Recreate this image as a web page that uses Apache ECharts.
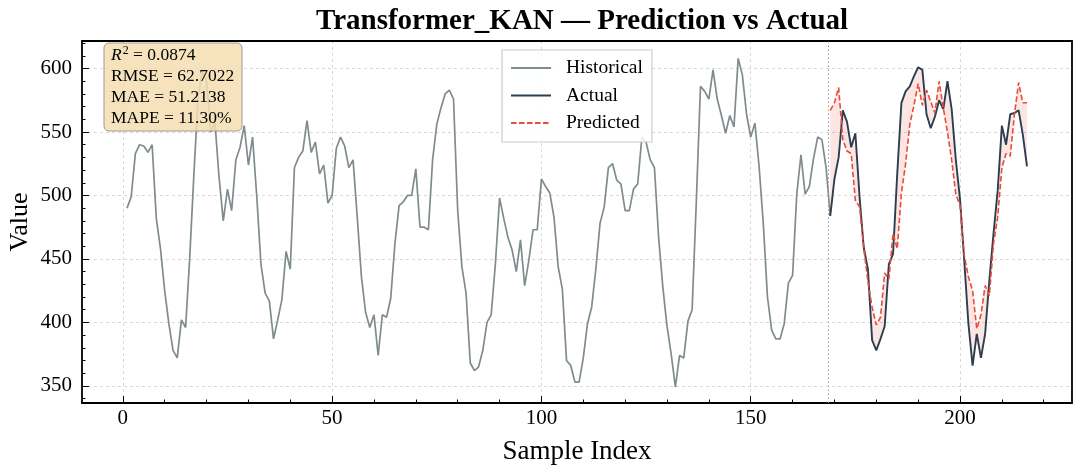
<!DOCTYPE html>
<html>
<head>
<meta charset="utf-8">
<script src="https://cdn.jsdelivr.net/npm/echarts@6/dist/echarts.min.js"></script>
<style>html,body{margin:0;padding:0;background:#fff;}#c{width:1080px;height:473px;}</style>
</head>
<body>
<div id="c"></div>
<script>
// ---------------- data ----------------
const histStart = 1;
const histValues = [
 490,499,533,540,539,534,540,482,458,425,399,378,372,402,396,452,518,578,598,590,
 550,558,514,480,505,488,528,538,555,524,546,499,446,423,417,387,402,418,456,442,
 522,530,535,559,534,542,517,524,494,500,537,546,539,522,528,483,436,408,396,406,
 374,406,404,419,462,492,495,500,500,521,475,475,473,528,556,569,580,583,576,488,
 444,423,368,362,365,378,400,406,446,498,482,467,457,440,465,429,449,473,473,513,
 507,502,483,444,426,370,366,353,353,372,399,412,442,478,491,522,525,512,509,488,
 488,505,509,546,542,528,522,467,428,397,375,349,374,372,401,410,495,586,582,576,
 599,576,563,549,563,554,608,595,564,546,557,523,478,420,394,387,387,399,431,437,
 501,532,501,507,529,546,544,522,484
];
const testStart = 169;
const boundaryX = 168.5;
const actualValues = [
 484,513,530,567,558,538,549,499,459,442,386,378,387,397,446,454,517,573,582,586,
 594,601,599,564,553,562,575,568,590,568,528,497,449,399,366,391,372,391,433,470,
 504,555,540,564,565,567,548,523
];
const predValues = [
 567,573,585,544,535,533,496,491,459,432,412,398,404,439,434,470,458,502,525,556,
 571,588,571,583,574,565,590,569,550,528,501,492,453,436,425,395,406,429,421,462,
 483,522,533,531,564,589,573,573
];
const xMajorTicks = [0, 50, 100, 150, 200];
const xMinorTicks = [10,20,30,40,60,70,80,90,110,120,130,140,160,170,180,190,210,220];
const yMajorTicks = [350, 400, 450, 500, 550, 600];
const yMinorTicks = [340,360,370,380,390,410,420,430,440,460,470,480,490,510,520,530,540,560,570,580,590,610,620];
const statNames = ['RMSE', 'MAE', 'MAPE'];
const statValues = ['0.0874', '62.7022', '51.2138', '11.30%'];
const titleText = 'Transformer_KAN \u2014 Prediction vs Actual';

const XMIN = -9.75, XMAX = 226.75, YMIN = 336.5, YMAX = 621.7;
const FONT = '"Liberation Serif", "DejaVu Serif", "Times New Roman", serif';

const histData = histValues.map((v, i) => [histStart + i, v]);
const actualData = actualValues.map((v, i) => [testStart + i, v]);
const predData = predValues.map((v, i) => [testStart + i, v]);

function axisDef(type, pos, ticks, len, showLine) {
  return {
    type: 'value', position: pos,
    min: type === 'x' ? XMIN : YMIN, max: type === 'x' ? XMAX : YMAX,
    axisLine: { show: showLine, onZero: false, lineStyle: { color: '#000', width: 1.8 } },
    axisTick: { show: ticks !== null, inside: true, length: len, customValues: ticks || [], lineStyle: { color: '#000', width: 1 } },
    axisLabel: { show: false },
    splitLine: { show: false },
    minorTick: { show: false }
  };
}

const xMain = axisDef('x', 'bottom', xMajorTicks, 7, true);
xMain.axisLabel = { show: true, customValues: xMajorTicks, fontSize: 21, color: '#000', fontFamily: FONT, margin: 5 };
xMain.splitLine = { show: true, lineStyle: { color: '#cfcfcf', type: [3, 3], width: 0.8 } };
xMain.name = 'Sample Index';
xMain.nameLocation = 'middle';
xMain.nameGap = 35;
xMain.nameTextStyle = { fontSize: 27, fontFamily: FONT, color: '#000' };

const yMain = axisDef('y', 'left', yMajorTicks, 7, true);
yMain.axisLabel = { show: true, customValues: yMajorTicks, fontSize: 21, color: '#000', fontFamily: FONT, margin: 10 };
yMain.splitLine = { show: true, lineStyle: { color: '#cfcfcf', type: [3, 3], width: 0.8 } };
yMain.name = 'Value';
yMain.nameLocation = 'middle';
yMain.nameGap = 49;
yMain.nameMoveOverlap = false;
yMain.nameTextStyle = { fontSize: 26, fontFamily: FONT, color: '#000' };

const chart = echarts.init(document.getElementById('c'), null, { renderer: 'canvas' });

const option = {
  backgroundColor: '#fff',
  animation: false,
  title: {
    text: titleText, left: 577, top: 2, textAlign: 'center',
    textStyle: { fontSize: 29, fontWeight: 'bold', fontFamily: FONT, color: '#000' }
  },
  grid: { left: 82, right: 8, top: 41, bottom: 70, containLabel: false, outerBoundsMode: 'none' },
  legend: {
    data: ['Historical', 'Actual', 'Predicted'],
    orient: 'vertical', left: 502, top: 50,
    itemWidth: 40, itemHeight: 14, itemGap: 7.5,
    padding: [8, 9, 9, 8],
    itemStyle: { opacity: 0 },
    backgroundColor: 'rgba(255,255,255,0.85)',
    borderColor: '#cccccc', borderWidth: 1.2, borderRadius: 0,
    textStyle: { fontSize: 19.5, lineHeight: 20, fontFamily: FONT, color: '#000', padding: [0, 0, 0, 10] }
  },
  xAxis: [xMain, axisDef('x', 'bottom', xMinorTicks, 3.5, false), axisDef('x', 'top', null, 0, true)],
  yAxis: [yMain, axisDef('y', 'left', yMinorTicks, 3.5, false), axisDef('y', 'right', null, 0, true)],
  graphic: [
    { type: 'rect', z: 100, shape: { x: 104, y: 43, width: 138, height: 88, r: 5 },
      style: { fill: 'rgba(245,222,179,0.85)', stroke: '#9a9a9a', lineWidth: 1 } },
    { type: 'text', z: 101, x: 111, y: 45,
      style: {
        text: '{it|R}{sup|2} = ' + statValues[0] + '\n' +
              statNames.map((n, i) => n + ' = ' + statValues[i + 1]).join('\n'),
        font: '17.5px ' + FONT, fill: '#000', lineHeight: 21,
        rich: {
          it: { fontStyle: 'italic', fontSize: 17.5, fontFamily: FONT, lineHeight: 21 },
          sup: { fontSize: 12, fontFamily: FONT, lineHeight: 21, padding: [0, 0, 9, 1] }
        }
      } }
  ],
  series: [
    {
      name: 'Historical', type: 'line', xAxisIndex: 0, yAxisIndex: 0, data: histData,
      symbol: 'none', z: 3, lineStyle: { color: '#7f8c8d', width: 1.7 }, itemStyle: { color: '#7f8c8d' },
      markLine: {
        silent: true, symbol: 'none', label: { show: false },
        lineStyle: { color: '#9a9a9a', type: [1.5, 2.5], width: 1 },
        data: [{ xAxis: boundaryX }]
      }
    },
    {
      name: 'band', type: 'custom', xAxisIndex: 0, yAxisIndex: 0, z: 2, silent: true,
      data: [[testStart, actualValues[0]]],
      renderItem: function (params, api) {
        const pts = [];
        for (let i = 0; i < actualData.length; i++) pts.push(api.coord(actualData[i]));
        for (let i = predData.length - 1; i >= 0; i--) pts.push(api.coord(predData[i]));
        return { type: 'polygon', shape: { points: pts }, style: { fill: 'rgba(231,76,60,0.14)', stroke: 'none' } };
      }
    },
    {
      name: 'Actual', type: 'line', xAxisIndex: 0, yAxisIndex: 0, data: actualData,
      symbol: 'none', z: 4, lineStyle: { color: '#2c3e50', width: 1.9 }, itemStyle: { color: '#2c3e50' }
    },
    {
      name: 'Predicted', type: 'line', xAxisIndex: 0, yAxisIndex: 0, data: predData,
      symbol: 'none', z: 5, lineStyle: { color: '#e74c3c', width: 1.6, type: [5.5, 2.5] }, itemStyle: { color: '#e74c3c' }
    }
  ]
};
chart.setOption(option);
</script>
</body>
</html>
